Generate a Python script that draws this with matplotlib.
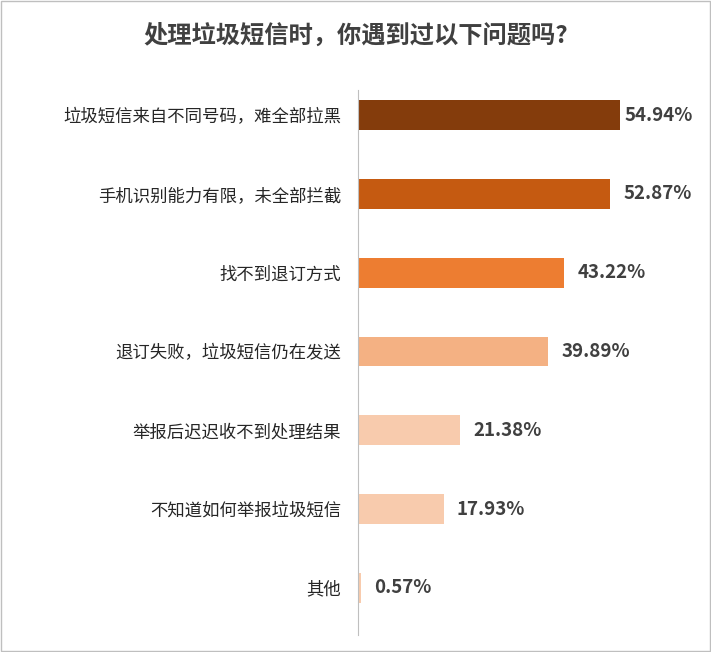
import matplotlib
matplotlib.use("Agg")
import matplotlib.pyplot as plt
from matplotlib.patches import Rectangle

categories = ["垃圾短信来自不同号码，难全部拉黑", "手机识别能力有限，未全部拦截", "找不到退订方式",
              "退订失败，垃圾短信仍在发送", "举报后迟迟收不到处理结果", "不知道如何举报垃圾短信", "其他"]
values = [54.94, 52.87, 43.22, 39.89, 21.38, 17.93, 0.57]
colors = ["#843C0C", "#C55A11", "#ED7D31", "#F4B183", "#F8CBAD", "#F8CBAD", "#F8CBAD"]

plt.rcParams["font.family"] = "Noto Sans CJK SC"
fig = plt.figure(figsize=(7.11, 6.52), dpi=100)
fig.patches.append(Rectangle((0.001, 0.001), 0.997, 0.997, transform=fig.transFigure,
                             fill=False, edgecolor="#BFBFBF", linewidth=1))
ax = fig.add_axes([0.5035, 0.026, 0.47, 0.836])
y = range(len(categories))
ax.barh(y, values, height=0.38, color=colors)
for i, v in enumerate(values):
    off = 0.8 if v > 54 else 2.8
    ax.text(v + off, i, f"{v:.2f}%", va="center", ha="left", fontsize=13.5,
            fontweight="bold", color="#404040")
ax.set_xlim(0, 70)
ax.set_ylim(6.6, -0.32)
ax.set_yticks(list(y))
ax.set_yticklabels(categories, fontsize=12.5, color="#262626")
ax.set_xticks([])
ax.tick_params(axis="y", length=0, pad=12)
for s in ["top", "right", "bottom"]:
    ax.spines[s].set_visible(False)
ax.spines["left"].set_color("#BFBFBF")
fig.text(0.5, 0.945, "处理垃圾短信时，你遇到过以下问题吗?", ha="center", va="center",
         fontsize=17.5, fontweight="bold", color="#404040")
fig.savefig("out.png", dpi=100)
